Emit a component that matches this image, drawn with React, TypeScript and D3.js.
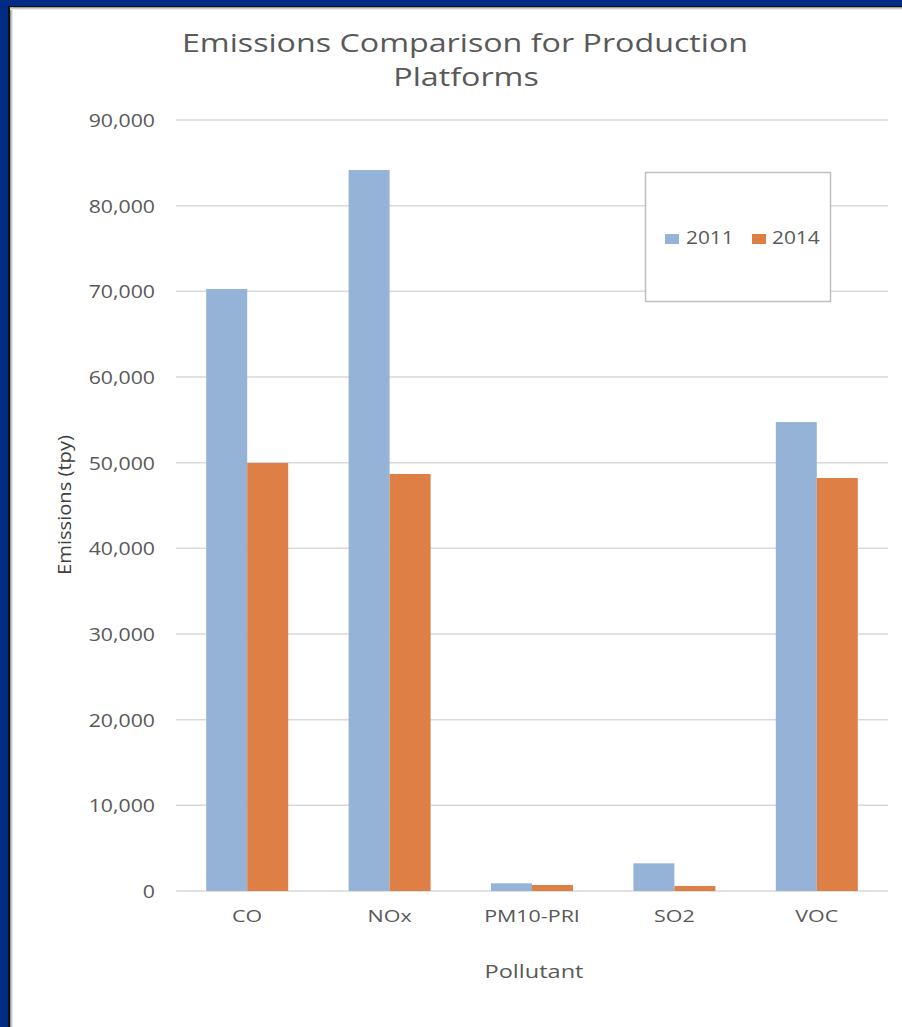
import React from "react";
import * as d3 from "d3";

const categories = ["CO", "NOx", "PM10-PRI", "SO2", "VOC"];
const seriesNames = ["2011", "2014"];
const values2011 = [70270, 84160, 900, 3230, 54740];
const values2014 = [49960, 48680, 700, 580, 48210];
const yTicks = [0, 10000, 20000, 30000, 40000, 50000, 60000, 70000, 80000, 90000];
const colors = ["#95B3D7", "#DE7F45"];

const W = 902;
const H = 1027;
const M = { left: 176, right: 888, top: 120, bottom: 891 };
const txt = "#595959";

function T(props: {
  x: number;
  y: number;
  sx: number;
  size: number;
  anchor?: string;
  fill?: string;
  children: React.ReactNode;
}) {
  const { x, y, sx, size, anchor = "start", fill = txt, children } = props;
  return (
    <text
      transform={`translate(${x},${y}) scale(${sx},1)`}
      textAnchor={anchor}
      fontSize={size}
      fill={fill}
    >
      {children}
    </text>
  );
}

export default function App() {
  const x = d3.scaleBand<string>().domain(categories).range([M.left, M.right]).paddingInner(0).paddingOuter(0);
  const y = d3.scaleLinear().domain([0, 90000]).range([M.bottom, M.top]);
  const barW = 41;
  const fmt = d3.format(",");
  const series = [values2011, values2014];
  const font = "'Open Sans', 'Noto Sans', sans-serif";

  return (
    <svg width={W} height={H} style={{ position: "absolute", left: 0, top: 0, display: "block" }} fontFamily={font}>
      <defs>
        <linearGradient id="shL" x1="0" x2="1" y1="0" y2="0">
          <stop offset="0" stopColor="#888" />
          <stop offset="1" stopColor="#fff" />
        </linearGradient>
        <linearGradient id="shT" x1="0" x2="0" y1="0" y2="1">
          <stop offset="0" stopColor="#aaa" />
          <stop offset="1" stopColor="#fff" />
        </linearGradient>
      </defs>
      <rect x={0} y={0} width={W} height={H} fill="#ffffff" />
      <rect x={0} y={0} width={W} height={6} fill="#002B85" />
      <rect x={0} y={0} width={8} height={H} fill="#002B85" />
      <rect x={8} y={6} width={2} height={H} fill="#111" />
      <rect x={8} y={6} width={W} height={1.5} fill="#111" />
      <rect x={10} y={7.5} width={3} height={H} fill="url(#shL)" />
      <rect x={10} y={7.5} width={W} height={2.5} fill="url(#shT)" />

      <T x={465} y={52} sx={1.24} size={26} anchor="middle">
        Emissions Comparison for Production
      </T>
      <T x={466} y={86} sx={1.24} size={26} anchor="middle">
        Platforms
      </T>

      {yTicks.map((t) => (
        <g key={t}>
          <line x1={M.left} x2={M.right} y1={y(t)} y2={y(t)} stroke="#D9D9D9" strokeWidth={1.5} />
          <T x={155} y={y(t) + 7} sx={1.12} size={19} anchor="end">
            {fmt(t)}
          </T>
        </g>
      ))}

      {categories.map((c, i) => {
        const cx = (x(c) as number) + x.bandwidth() / 2;
        return (
          <g key={c}>
            {series.map((s, j) => (
              <rect
                key={j}
                x={cx - barW + j * barW}
                y={y(s[i])}
                width={barW}
                height={y(0) - y(s[i])}
                fill={colors[j]}
              />
            ))}
            <T x={cx} y={922} sx={1.3} size={16.5} anchor="middle">
              {c}
            </T>
          </g>
        );
      })}

      <text
        transform={`translate(71,${505}) rotate(-90) scale(1.06,1)`}
        textAnchor="middle"
        fontSize={19}
        fill="#404040"
      >
        Emissions (tpy)
      </text>
      <T x={534} y={978} sx={1.24} size={19} anchor="middle">
        Pollutant
      </T>

      <rect x={645.5} y={172.5} width={185} height={129} fill="#fff" stroke="#BFBFBF" strokeWidth={1.5} />
      {seriesNames.map((n, j) => (
        <g key={n}>
          <rect x={665 + j * 87} y={234} width={14} height={10} fill={colors[j]} />
          <T x={686 + j * 86} y={244} sx={1.16} size={18}>
            {n}
          </T>
        </g>
      ))}
    </svg>
  );
}
